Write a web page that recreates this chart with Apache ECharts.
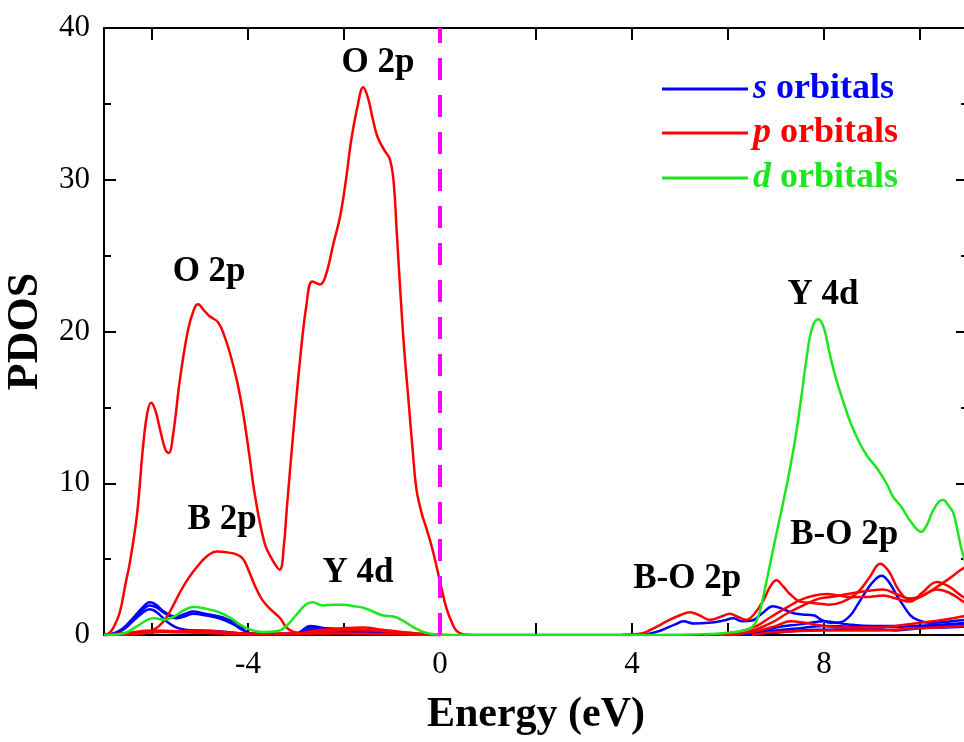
<!DOCTYPE html>
<html>
<head>
<meta charset="utf-8">
<script src="https://cdn.jsdelivr.net/npm/echarts@6/dist/echarts.min.js"></script>
<style>
  html, body { margin: 0; padding: 0; background: #fff; }
  #main { width: 964px; height: 742px; }
</style>
</head>
<body>
<div id="main"></div>
<script>
// axis ticks / labels
var xTicks = [-6, -4, -2, 0, 2, 4, 6, 8, 10];
var xLabels = [-4, 0, 4, 8];

// p orbitals (red)
var pMain = [[-7,0],[-6.9,0.1],[-6.8,0.5],[-6.67,1.5],[-6.55,3.4],[-6.46,4.8],[-6.31,8.0],[-6.19,12.3],[-6.1,14.6],[-6.02,15.3],[-5.93,14.8],[-5.83,13.5],[-5.72,12.2],[-5.65,12.0],[-5.56,13.2],[-5.42,16.8],[-5.25,20.1],[-5.12,21.5],[-5.04,21.8],[-4.92,21.4],[-4.8,21.0],[-4.62,20.6],[-4.48,19.6],[-4.37,18.5],[-4.22,16.6],[-4.1,14.6],[-3.97,11.8],[-3.85,9.1],[-3.65,6.0],[-3.5,5.0],[-3.34,4.3],[-3.25,6.0],[-3.19,8.4],[-3.06,13.2],[-2.92,18.0],[-2.78,21.8],[-2.66,23.3],[-2.5,23.1],[-2.38,23.7],[-2.22,25.8],[-2.08,27.6],[-1.95,30.2],[-1.85,32.6],[-1.72,34.8],[-1.6,36.1],[-1.5,35.4],[-1.4,34.0],[-1.3,32.8],[-1.15,31.9],[-1.05,31.4],[-0.97,30.0],[-0.9,26.5],[-0.83,22.8],[-0.75,19.0],[-0.66,15.6],[-0.57,12.2],[-0.49,9.6],[-0.38,8.0],[-0.28,7.0],[-0.17,5.8],[-0.07,4.5],[0.03,3.1],[0.14,1.7],[0.25,0.8],[0.35,0.25],[0.5,0.03],[0.7,0],[4.0,0]];
var pB2p = [[-7,0],[-6.6,0.02],[-6.2,0.1],[-6.0,0.3],[-5.85,0.6],[-5.69,1.2],[-5.55,2.0],[-5.42,2.8],[-5.25,3.7],[-5.06,4.5],[-4.85,5.2],[-4.65,5.5],[-4.45,5.45],[-4.23,5.3],[-4.1,5.0],[-3.98,4.2],[-3.85,3.2],[-3.7,2.3],[-3.5,1.6],[-3.33,1.1],[-3.2,0.5],[-3.05,0.2],[-2.8,0.1],[-2.0,0.1],[-1.0,0.05],[0,0]];
var pLowA = [[-7,0],[-6.5,0.15],[-6.0,0.3],[-5.5,0.25],[-5.0,0.3],[-4.5,0.2],[-4.0,0.1],[-3.0,0.1],[-2.6,0.3],[-2.0,0.45],[-1.6,0.5],[-1.2,0.35],[-0.8,0.2],[-0.3,0.05],[0.2,0]];
var pLowB = [[-7,0],[-6.3,0.1],[-5.8,0.2],[-5.0,0.15],[-4.0,0.05],[-3.0,0.05],[-2.5,0.2],[-1.8,0.35],[-1.2,0.25],[-0.5,0.1],[0,0]];
var pRightA = [[3.8,0],[4.2,0.1],[4.38,0.33],[4.55,0.6],[4.72,0.9],[5.0,1.3],[5.21,1.5],[5.4,1.3],[5.63,1.0],[5.85,1.2],[6.04,1.4],[6.2,1.2],[6.39,1.0],[6.55,1.4],[6.74,2.3],[6.88,3.2],[7.01,3.6],[7.15,3.2],[7.29,2.7],[7.5,2.2],[7.8,2.1],[8.1,2.0],[8.4,2.2],[8.7,2.8],[8.95,3.8],[9.17,4.7],[9.35,4.2],[9.55,3.0],[9.79,2.3],[10.0,2.5],[10.27,3.0],[10.6,3.7],[10.9,4.4],[11,4.5]];
var pRightB = [[5.5,0],[6.2,0.2],[6.6,0.6],[6.9,1.2],[7.22,1.8],[7.5,2.3],[7.8,2.6],[8.06,2.7],[8.3,2.6],[8.6,2.5],[8.9,2.5],[9.24,2.6],[9.5,2.4],[9.79,2.2],[10.05,2.8],[10.35,3.5],[10.6,3.2],[10.9,2.5],[11,2.4]];
var pRightC = [[5.8,0],[6.5,0.3],[6.9,0.8],[7.22,1.4],[7.6,2.0],[7.9,2.4],[8.13,2.5],[8.5,2.7],[8.9,2.9],[9.24,3.0],[9.5,2.7],[9.8,2.4],[10.05,2.6],[10.35,3.0],[10.6,2.8],[10.9,2.2],[11,2.0]];
var pRightD = [[6.0,0],[6.5,0.2],[7.0,0.6],[7.3,0.9],[7.6,0.8],[8.0,0.6],[8.5,0.5],[9.0,0.5],[9.5,0.6],[10.0,0.8],[10.5,1.0],[11,1.3]];
var pRightE = [[6.5,0],[7.0,0.2],[8.0,0.3],[9.0,0.3],[10.0,0.45],[11,0.6]];

// s orbitals (blue)
var sA = [[-7,0],[-6.8,0.1],[-6.6,0.45],[-6.4,1.1],[-6.2,1.8],[-6.05,2.15],[-5.92,2.0],[-5.75,1.55],[-5.5,1.2],[-5.3,1.4],[-5.14,1.55],[-4.9,1.4],[-4.58,1.2],[-4.4,1.0],[-4.24,0.8],[-4.1,0.4],[-4.0,0.15],[-3.6,0.05],[-3.0,0.1],[-2.7,0.6],[-2.4,0.45],[-2.0,0.4],[-1.5,0.3],[-1.0,0.15],[-0.5,0.05],[0,0]];
var sB = [[-7,0],[-6.8,0.08],[-6.6,0.4],[-6.4,1.0],[-6.2,1.65],[-6.05,1.95],[-5.9,1.8],[-5.72,1.4],[-5.5,1.1],[-5.3,1.25],[-5.14,1.4],[-4.9,1.3],[-4.6,1.1],[-4.3,0.7],[-4.1,0.3],[-3.9,0.08],[-3.0,0.08],[-2.7,0.5],[-2.3,0.4],[-1.8,0.35],[-1.2,0.2],[-0.5,0.05],[0,0]];
var sC = [[-7,0],[-6.8,0.07],[-6.6,0.35],[-6.4,0.9],[-6.2,1.45],[-6.05,1.7],[-5.9,1.5],[-5.7,0.9],[-5.5,0.5],[-5.3,0.35],[-5.0,0.3],[-4.6,0.25],[-4.2,0.12],[-3.8,0.05],[-3.0,0.05],[-2.7,0.35],[-2.2,0.3],[-1.5,0.2],[-0.8,0.1],[0,0]];
var sD = [[-7,0],[-6.5,0.1],[-6.0,0.25],[-5.5,0.2],[-5.0,0.2],[-4.5,0.15],[-4.0,0.05],[-3.0,0.05],[-2.5,0.2],[-1.5,0.15],[0,0]];
var sRightA = [[3.8,0],[4.3,0.05],[4.6,0.3],[4.9,0.7],[5.07,0.9],[5.3,0.75],[5.6,0.8],[5.9,0.95],[6.11,1.1],[6.3,0.9],[6.5,0.95],[6.7,1.4],[6.94,1.9],[7.15,1.7],[7.35,1.45],[7.55,1.35],[7.78,1.3],[7.95,1.0],[8.13,0.8],[8.35,0.85],[8.55,1.3],[8.7,2.0],[8.9,3.0],[9.05,3.6],[9.2,3.9],[9.35,3.5],[9.5,2.7],[9.62,2.1],[9.8,1.3],[9.95,1.0],[10.2,0.8],[10.5,0.85],[10.8,0.95],[11,1.0]];
var sRightB = [[5.5,0],[6.5,0.1],[7.0,0.3],[7.5,0.45],[8.0,0.6],[8.5,0.55],[9.0,0.5],[9.5,0.55],[10.0,0.6],[10.5,0.7],[11,0.8]];
var sRightC = [[6.0,0],[7.0,0.15],[7.5,0.3],[8.0,0.35],[9.0,0.4],[9.5,0.3],[10.0,0.45],[10.5,0.5],[11,0.55]];
var sRightD = [[6.5,0],[7.0,0.5],[7.5,0.7],[8.0,0.9],[8.5,0.7],[9.0,0.6],[9.5,0.6],[10.0,0.6],[11,0.7]];

// d orbitals (green)
var dMain = [[-7,0],[-6.6,0.1],[-6.3,0.6],[-6.1,1.0],[-5.95,1.1],[-5.75,1.0],[-5.55,1.2],[-5.35,1.6],[-5.15,1.85],[-4.9,1.75],[-4.6,1.5],[-4.35,1.1],[-4.15,0.65],[-3.95,0.35],[-3.7,0.2],[-3.4,0.25],[-3.2,0.6],[-3.0,1.3],[-2.8,2.0],[-2.65,2.15],[-2.45,1.95],[-2.2,2.0],[-2.0,2.0],[-1.8,1.9],[-1.6,1.8],[-1.4,1.55],[-1.2,1.3],[-0.95,1.2],[-0.75,0.9],[-0.55,0.5],[-0.3,0.15],[0,0.02],[0.3,0],[4.5,0],[5.5,0.05],[6.0,0.15],[6.4,0.35],[6.55,0.7],[6.65,1.4],[6.8,3.5],[6.95,5.8],[7.1,8.0],[7.25,10.3],[7.4,12.9],[7.52,15.5],[7.64,18.3],[7.75,20.2],[7.88,20.8],[8.0,20.2],[8.12,18.5],[8.25,16.9],[8.4,15.4],[8.55,14.0],[8.75,12.6],[8.9,11.8],[9.1,11.0],[9.3,10.0],[9.44,9.1],[9.6,8.5],[9.8,7.5],[10.03,6.8],[10.15,7.3],[10.27,8.2],[10.4,8.8],[10.49,8.9],[10.6,8.5],[10.7,8.0],[10.8,6.6],[10.87,5.6],[11,4.2]];

// Fermi level
var fermiLine = [[0,0],[0,40]];

// peak annotations
var noteText = ['O 2p', 'O 2p', 'B 2p', 'Y 4d', 'Y 4d', 'B-O 2p', 'B-O 2p'];
var noteX = [-1.29, -4.81, -4.54, -1.71, 7.98, 5.15, 8.42];
var noteY = [37.7, 23.9, 7.6, 4.1, 22.4, 3.7, 6.6];

var FONT = "'Times New Roman', 'Liberation Serif', serif";
var BLUE = '#0000ff', RED = '#ff0000', GREEN = '#1ee61e';

var myChart = echarts.init(document.getElementById('main'));

function curve(name, color, data) {
    return {
        name: name,
        type: 'line',
        data: data,
        smooth: 0.4,
        symbol: 'none',
        lineStyle: { color: color, width: 2.5 },
        itemStyle: { color: color },
        z: 3
    };
}

var series = [];
[sA, sB, sC, sD, sRightA, sRightB, sRightC, sRightD].forEach(function (d) {
    series.push(curve('s orbitals', BLUE, d));
});
[pMain, pB2p, pLowA, pLowB, pRightA, pRightB, pRightC, pRightD, pRightE].forEach(function (d) {
    series.push(curve('p orbitals', RED, d));
});
series.push(curve('d orbitals', GREEN, dMain));

series.push({
    type: 'line',
    data: fermiLine,
    symbol: 'none',
    lineStyle: { color: '#ff00ff', width: 4, type: [22, 15] },
    z: 4
});

series.push({
    type: 'scatter',
    symbolSize: 0,
    itemStyle: { color: '#000', opacity: 1 },
    data: noteText.map(function (t, i) { return { name: t, value: [noteX[i], noteY[i]] }; }),
    label: {
        show: true,
        position: 'inside',
        formatter: '{b}',
        color: '#000',
        textBorderWidth: 0,
        fontFamily: FONT,
        fontWeight: 'bold',
        fontSize: 35
    },
    z: 5
});

function legendFor(name, letter, color, top) {
    return {
        data: [name],
        left: 657,
        top: top,
        icon: 'rect',
        itemWidth: 86,
        itemHeight: 3,
        selectedMode: false,
        formatter: function () { return '{i|' + letter + ' }{b|orbitals}'; },
        textStyle: {
            color: color,
            rich: {
                i: { fontFamily: FONT, fontStyle: 'italic', fontWeight: 'bold', fontSize: 36, color: color },
                b: { fontFamily: FONT, fontWeight: 'bold', fontSize: 36, color: color }
            }
        }
    };
}

var axisLine = { show: true, onZero: false, lineStyle: { color: '#000', width: 2 } };

var option = {
    backgroundColor: '#fff',
    animation: false,
    legend: [
        legendFor('s orbitals', 's', BLUE, 66),
        legendFor('p orbitals', 'p', RED, 110),
        legendFor('d orbitals', 'd', GREEN, 155)
    ],
    grid: { left: 104, right: -4, top: 28, bottom: 107, containLabel: false, outerBoundsMode: 'none' },
    xAxis: [
        {
            type: 'value', min: -7, max: 11, position: 'bottom',
            name: 'Energy (eV)', nameLocation: 'middle', nameGap: 59,
            nameTextStyle: { fontFamily: FONT, fontWeight: 'bold', fontSize: 42, color: '#000' },
            axisLine: axisLine,
            axisTick: { inside: true, length: 12, customValues: xTicks, lineStyle: { color: '#000', width: 2 } },
            axisLabel: { customValues: xLabels, fontFamily: FONT, fontSize: 31, color: '#000', margin: 14 },
            splitLine: { show: false }
        },
        {
            type: 'value', min: -7, max: 11, position: 'top',
            axisLine: axisLine,
            axisTick: { inside: true, length: 12, customValues: xTicks, lineStyle: { color: '#000', width: 2 } },
            axisLabel: { show: false },
            splitLine: { show: false }
        }
    ],
    yAxis: [
        {
            type: 'value', min: 0, max: 40, interval: 10, position: 'left',
            name: 'PDOS', nameLocation: 'middle', nameGap: 50,
            nameTextStyle: { fontFamily: FONT, fontWeight: 'bold', fontSize: 44, color: '#000' },
            axisLine: axisLine,
            axisTick: { inside: true, length: 12, lineStyle: { color: '#000', width: 2 } },
            minorTick: { show: true, splitNumber: 2, length: 7, lineStyle: { color: '#000', width: 2 } },
            axisLabel: { fontFamily: FONT, fontSize: 31, color: '#000', margin: 14 },
            splitLine: { show: false }
        },
        {
            type: 'value', min: 0, max: 40, interval: 10, position: 'right',
            axisLine: axisLine,
            axisTick: { inside: true, length: 12, lineStyle: { color: '#000', width: 2 } },
            minorTick: { show: true, splitNumber: 2, length: 7, lineStyle: { color: '#000', width: 2 } },
            axisLabel: { show: false },
            splitLine: { show: false }
        }
    ],
    series: series
};

myChart.setOption(option);
</script>
</body>
</html>
